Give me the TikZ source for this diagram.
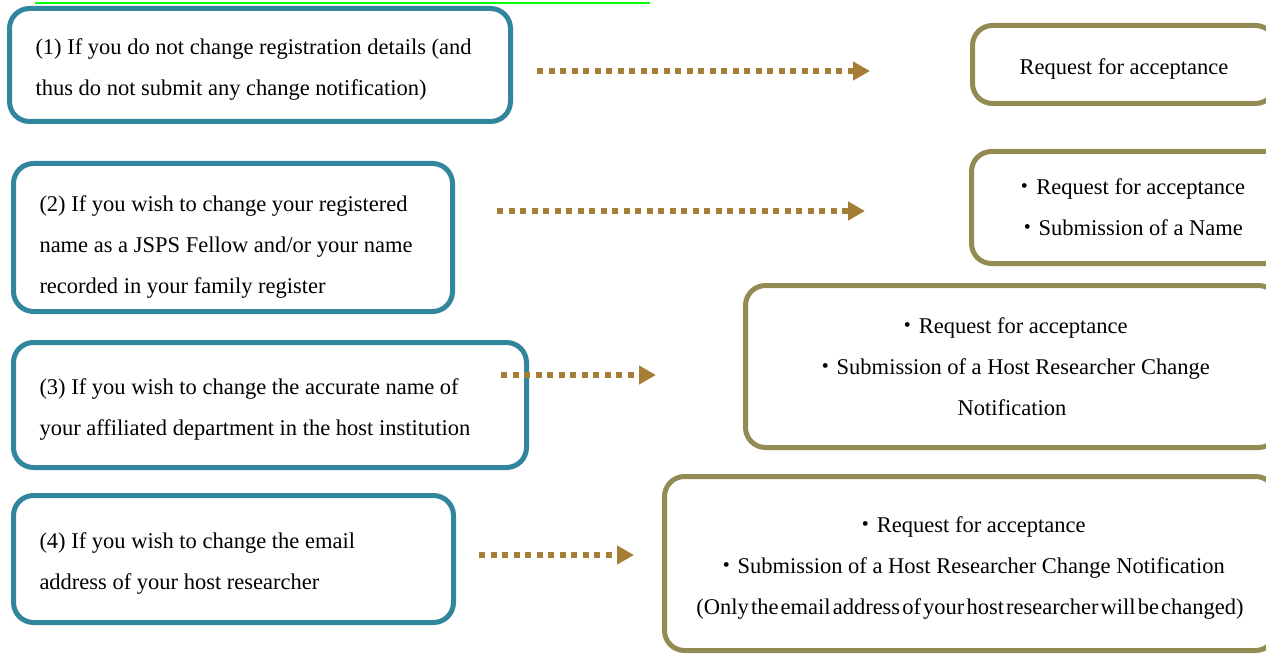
\documentclass[tikz,border=0pt]{standalone}
\usepackage{fontspec}
\setmainfont{Liberation Serif}
\newfontfamily\cjk{Noto Sans CJK JP}
\usetikzlibrary{arrows.meta}
\definecolor{condcol}{HTML}{31859C}
\definecolor{actcol}{HTML}{948A54}
\definecolor{arrcol}{HTML}{A47D37}
\newcommand{\jdot}{{\cjk ・}}
\newcommand{\tstrut}[1][24pt]{\rule{0pt}{#1}}

\begin{document}
\begin{tikzpicture}[x=1pt,y=-1pt,
  cond/.style={draw=condcol,line width=5pt,rounded corners=20pt,align=left,
    inner xsep=26pt,inner ysep=0pt,font=\fontsize{22.5}{41}\selectfont,
    execute at begin node={\spaceskip=0pt\xspaceskip=0pt\relax}},
  act/.style={draw=actcol,line width=5pt,rounded corners=20pt,align=center,
    inner ysep=0pt,font=\fontsize{22.5}{41}\selectfont},
  flow/.style={arrcol,line width=6pt,dash pattern=on 6pt off 5.5pt,
    -{Triangle[length=17pt,width=18pt]}}]
  \useasboundingbox (0,0) rectangle (1266,663);
  \draw[green,line width=2pt] (35,3) -- (650,3);

  % conditions
  \node[cond,minimum width=501,minimum height=113,text width=449] (c1) at (260,65)
    {\tstrut(1) If you do not change registration details (and\\thus do not submit any change notification)};
  \node[cond,minimum width=439,minimum height=148,text width=387] (c2) at (233,237.5)
    {\tstrut[34pt](2) If you wish to change your registered\\name as a JSPS Fellow and/or your name\\recorded in your family register};
  \node[cond,minimum width=513,minimum height=125,text width=461] (c3) at (270,405)
    {\tstrut(3) If you wish to change the accurate name of\\your affiliated department in the host institution};
  \node[cond,minimum width=440,minimum height=127,text width=388] (c4) at (233.5,559)
    {\tstrut(4) If you wish to change the email\\address of your host researcher};

  % what to submit
  \node[act,minimum width=303,minimum height=78] (r1) at (1124,64.5)
    {\tstrut Request for acceptance};
  \node[act,minimum width=316,minimum height=112] (r2) at (1129.5,207.5)
    {\jdot Request for acceptance\\\jdot Submission of a Name};
  \node[act,minimum width=533,minimum height=162] (r3) at (1012,366.5)
    {\jdot Request for acceptance\\\jdot Submission of a Host Researcher Change\\Notification};
  \node[act,minimum width=611,minimum height=174] (r4) at (970,563.5)
    {\tstrut\jdot Request for acceptance\\\jdot Submission of a Host Researcher Change Notification\\
     {\spaceskip=2.1pt plus 1pt\relax(Only the email address of your host researcher will be changed)}};

  % arrows
  \coordinate (s1) at (537,71);  \coordinate (e1) at (870,71);
  \coordinate (s2) at (497,211); \coordinate (e2) at (865,211);
  \coordinate (s3) at (501,375); \coordinate (e3) at (656,375);
  \coordinate (s4) at (479,555); \coordinate (e4) at (634,555);
  \draw[flow] (s1) -- (e1);
  \draw[flow] (s2) -- (e2);
  \draw[flow] (s3) -- (e3);
  \draw[flow] (s4) -- (e4);
\end{tikzpicture}
\end{document}
